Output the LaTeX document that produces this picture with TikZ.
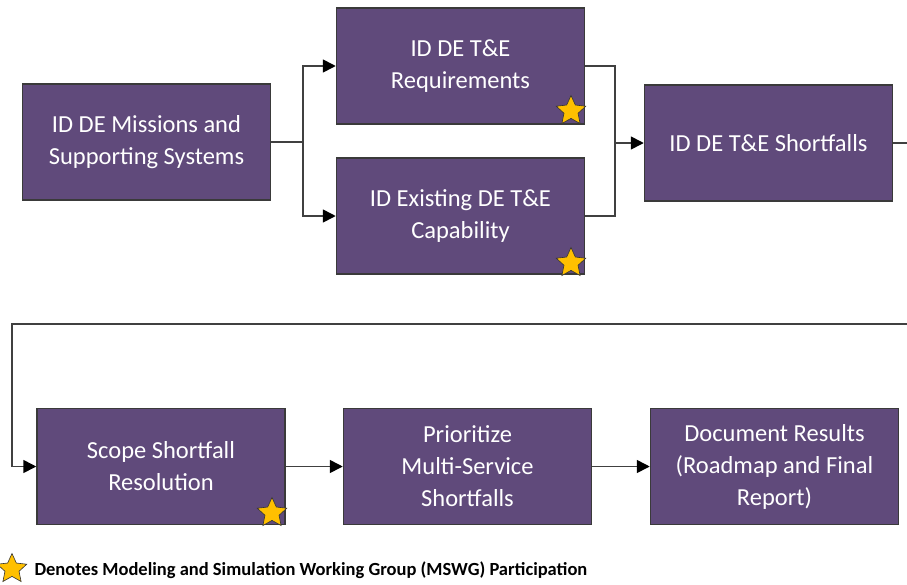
\documentclass[tikz,border=0pt]{standalone}
\usepackage{fontspec}
\setmainfont{Carlito}
\usetikzlibrary{arrows.meta,shapes.geometric}
\definecolor{boxpurple}{HTML}{604A7B}
\definecolor{boxedge}{HTML}{3A3A3A}
\definecolor{linegray}{HTML}{404040}
\definecolor{stargold}{HTML}{FFC000}
\tikzset{
  stepbox/.style={draw=boxedge,line width=1.5pt,fill=boxpurple,text=white,
    minimum width=248pt,minimum height=116pt,align=center,inner sep=2pt,
    font=\fontsize{24.5}{32}\selectfont},
  flow/.style={draw=linegray,line width=1.6pt},
  arr/.style={flow,-{Triangle[length=13pt,width=13pt,color=black]}},
  mark star/.style={star,star points=5,star point ratio=2.1,fill=stargold,
    draw=black!80,line width=0.6pt,minimum size=31pt,inner sep=0pt},
}
\begin{document}
\begin{tikzpicture}[x=1pt,y=-1pt]
            \useasboundingbox (0,0) rectangle (907,584);
            
            % top row
            \node[stepbox] (missions) at (146.5,142) {ID DE Missions and\\Supporting Systems};
            \node[stepbox] (reqs) at (460.5,66) {ID DE T\&E\\Requirements};
            \node[stepbox] (exist) at (460.5,216) {ID Existing DE T\&E\\Capability};
            \node[stepbox] (short) at (768.5,143) {ID DE T\&E Shortfalls};
            
            % bottom row
            \node[stepbox] (scope) at (161,466.5) {Scope Shortfall\\Resolution};
            \node[stepbox] (prio) at (467.5,466.5) {Prioritize\\Multi-Service\\Shortfalls};
            \node[stepbox] (docs) at (774.5,466.5) {Document Results\\(Roadmap and Final\\Report)};
            
            % MSWG stars
            \node[mark star] (starA) at (571,111) {};
            \node[mark star] (starB) at (571,263) {};
            \node[mark star] (starC) at (272,513) {};
            
            \coordinate (fork) at (303,142);
            \coordinate (join) at (615,143);
            \coordinate (wrap) at (913,324);
            \coordinate (turn) at (12,324);
            
            \draw[flow] (missions.east) -- (fork);
            \draw[arr] (fork) |- (reqs.west);
            \draw[arr] (fork) |- (exist.west);
            \draw[flow] (reqs.east) -| (join);
            \draw[flow] (exist.east) -| (join);
            \draw[arr] (join) -- (short.west);
            \draw[arr] (short.east) -| (wrap) -- (turn) |- (scope.west);
            \draw[arr] (scope) -- (prio);
            \draw[arr] (prio) -- (docs);
            
            % legend
            \node[mark star] (keystar) at (12,569) {};
            \node[anchor=west,font=\bfseries\fontsize{18.5}{20}\selectfont] (keytext) at (31,570)
              {Denotes Modeling and Simulation Working Group (MSWG) Participation};
            
        \end{tikzpicture}
\end{document}
